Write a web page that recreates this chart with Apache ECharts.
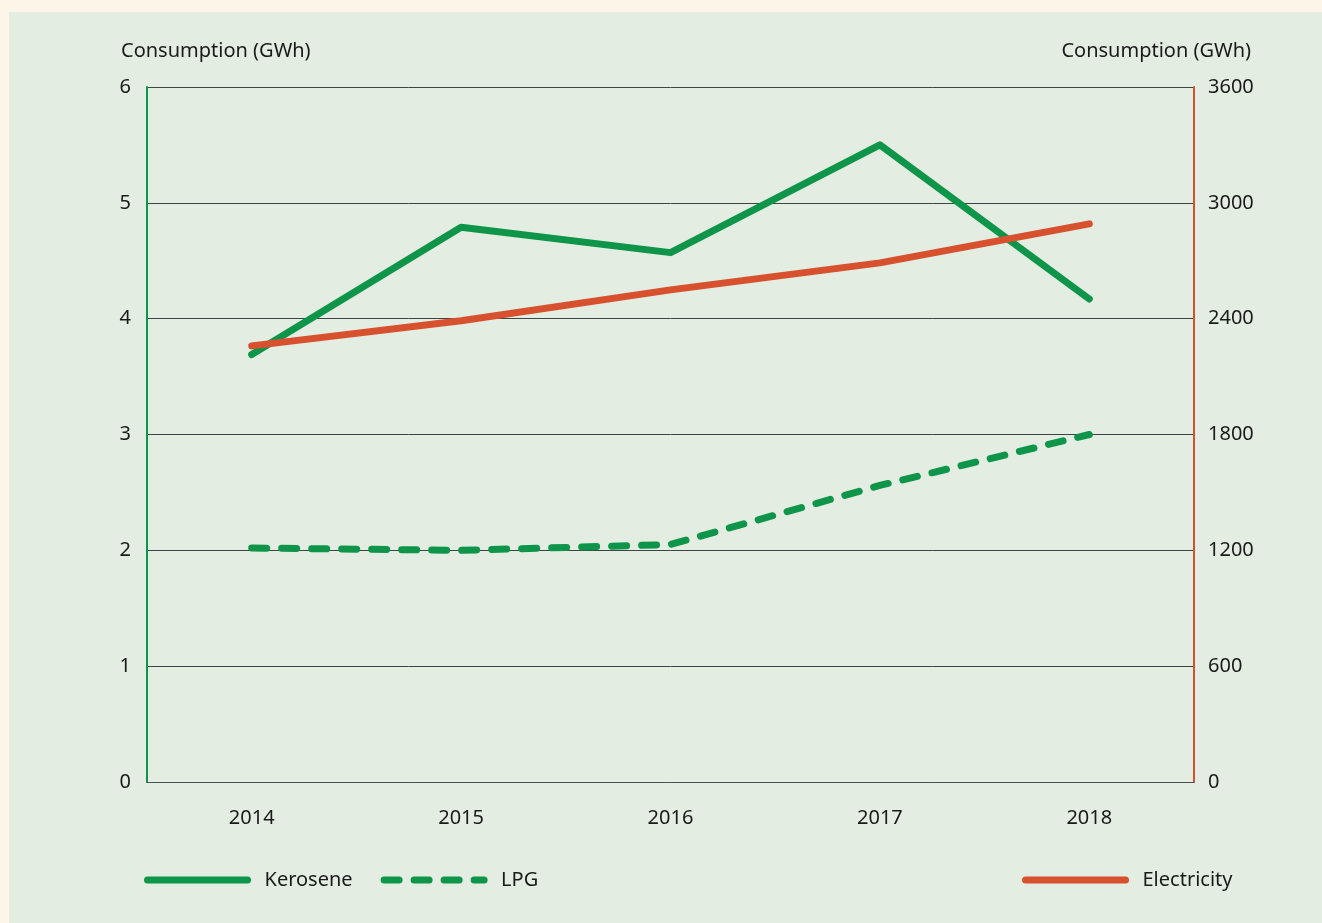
<!DOCTYPE html>
<html>
<head>
<meta charset="utf-8">
<title>Consumption</title>
<script src="https://cdn.jsdelivr.net/npm/echarts@6/dist/echarts.min.js"></script>
<style>
  html, body { margin: 0; padding: 0; background: #fdf5e8; }
  #chart { position: absolute; left: 9px; top: 12px; width: 1313px; height: 911px; }
</style>
</head>
<body>
<div id="chart"></div>
<script>
  // data
  var years = ['2014', '2015', '2016', '2017', '2018']
  var kerosene = [3.69, 4.79, 4.57, 5.5, 4.17]
  var lpg = [2.02, 2.0, 2.05, 2.56, 3.0]
  var electricity = [2259, 2389, 2549, 2689, 2891]
  var leftTicks = [0, 6, 1]      // min, max, interval
  var rightTicks = [0, 3600, 600]

  var green = '#0f9549'
  var red = '#d8512e'
  var font = 'Noto Sans'

  var myChart = echarts.init(document.getElementById('chart'))

  var legendBase = {
    top: 853,
    itemWidth: 100,
    itemHeight: 20,
    itemGap: 28,
    itemStyle: { color: 'transparent', borderWidth: 0 },
    lineStyle: { width: 7, cap: 'round' },
    textStyle: { fontSize: 20, color: '#1a1a1a', padding: [0, 0, 0, 12] }
  }

  var option = {
    backgroundColor: '#e3ede2',
    textStyle: { fontFamily: font },
    animation: false,
    grid: { left: 138, right: 128, top: 75, bottom: 141 },
    graphic: [
      { type: 'text', left: 112, top: 29, style: { text: 'Consumption (GWh)', fontFamily: font, fontSize: 20, fill: '#1a1a1a' } },
      { type: 'text', right: 71, top: 29, style: { text: 'Consumption (GWh)', fontFamily: font, fontSize: 20, fill: '#1a1a1a' } }
    ],
    legend: [
      Object.assign({}, legendBase, { left: 130, data: ['Kerosene', 'LPG'] }),
      Object.assign({}, legendBase, { left: 1008, data: ['Electricity'] })
    ],
    xAxis: {
      type: 'category',
      data: years,
      boundaryGap: true,
      axisLine: { lineStyle: { color: '#4a5252', width: 1 } },
      axisTick: { alignWithLabel: true, length: 15, lineStyle: { color: '#5a6262' } },
      axisLabel: { color: '#1a1a1a', fontSize: 20, margin: 26 }
    },
    yAxis: [{
      type: 'value',
      min: leftTicks[0],
      max: leftTicks[1],
      interval: leftTicks[2],
      position: 'left',
      axisLine: { show: true, lineStyle: { color: green, width: 2 } },
      axisTick: { show: false },
      axisLabel: { color: '#1a1a1a', fontSize: 20, margin: 16 },
      splitLine: { lineStyle: { color: '#3c4545', width: 1 } }
    }, {
      type: 'value',
      min: rightTicks[0],
      max: rightTicks[1],
      interval: rightTicks[2],
      position: 'right',
      axisLine: { show: true, lineStyle: { color: red, width: 2 } },
      axisTick: { show: false },
      axisLabel: { color: '#1a1a1a', fontSize: 20, margin: 14, formatter: function (v) { return String(v) } },
      splitLine: { show: false }
    }],
    series: [{
      name: 'Kerosene',
      type: 'line',
      yAxisIndex: 0,
      data: kerosene,
      showSymbol: false,
      symbol: 'none',
      color: green,
      lineStyle: { width: 7, color: green, cap: 'round', join: 'round' },
      z: 3
    }, {
      name: 'LPG',
      type: 'line',
      yAxisIndex: 0,
      data: lpg,
      showSymbol: false,
      symbol: 'none',
      color: green,
      lineStyle: { width: 7, color: green, type: [15, 15], cap: 'round', join: 'round' },
      z: 3
    }, {
      name: 'Electricity',
      type: 'line',
      yAxisIndex: 1,
      data: electricity,
      showSymbol: false,
      symbol: 'none',
      color: red,
      lineStyle: { width: 7, color: red, cap: 'round', join: 'round' },
      z: 4
    }]
  }
  myChart.setOption(option)
</script>
</body>
</html>
